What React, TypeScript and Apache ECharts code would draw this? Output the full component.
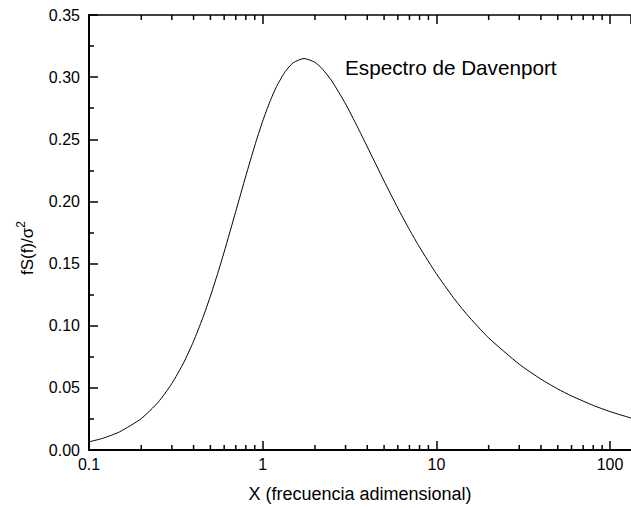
import React, { useEffect, useRef } from "react";
import * as echarts from "echarts";

// Frequency (dimensionless) and spectrum values
const xValues = [0.1, 0.12, 0.15, 0.2, 0.25, 0.3, 0.35, 0.4, 0.45, 0.5, 0.55, 0.6, 0.7, 0.8, 0.9, 1, 1.1, 1.2, 1.35, 1.5, 1.73, 2, 2.2, 2.5, 3, 3.5, 4, 5, 6, 7, 8, 10, 12.5, 15, 20, 30, 40, 50, 60, 80, 100, 132];
const yValues = [0.0066, 0.0094, 0.0146, 0.0253, 0.0384, 0.0535, 0.07, 0.0875, 0.1056, 0.1238, 0.1418, 0.1593, 0.192, 0.2206, 0.2448, 0.2646, 0.2802, 0.2923, 0.3046, 0.3116, 0.315, 0.3119, 0.3068, 0.2969, 0.2785, 0.2604, 0.244, 0.2164, 0.1946, 0.1773, 0.1632, 0.1418, 0.1228, 0.109, 0.0902, 0.069, 0.057, 0.0491, 0.0435, 0.0359, 0.0309, 0.0257];

// Minor tick positions on the log axis
const minorXTicks = [0.2, 0.3, 0.4, 0.5, 0.6, 0.7, 0.8, 0.9, 2, 3, 4, 5, 6, 7, 8, 9, 20, 30, 40, 50, 60, 70, 80, 90];

const xMin = 0.1;
const xMax = 132;
const yMin = 0;
const yMax = 0.35;
const yInterval = 0.05;

const chartTitle = "Espectro de Davenport";
const xName = "X (frecuencia adimensional)";
const yNameMain = "fS(f)/σ";
const yNameSup = "2";

const FONT = "'Liberation Sans', Arial, Helvetica, sans-serif";

export default function App() {
  const ref = useRef<HTMLDivElement>(null);
  useEffect(() => {
    if (!ref.current) return;
    const chart = echarts.init(ref.current, undefined, { renderer: "svg" });
    const lineData = xValues.map((x, i) => [x, yValues[i]]);
    const axisLineStyle = { color: "#000", width: 2 };
    chart.setOption({
      animation: false,
      backgroundColor: "#fff",
      textStyle: { fontFamily: FONT, color: "#000" },
      grid: { left: 89, right: 0, top: 15, bottom: 56, containLabel: false },
      xAxis: [
        {
          type: "log",
          logBase: 10,
          min: xMin,
          max: xMax,
          position: "bottom",
          axisLine: { show: true, lineStyle: axisLineStyle },
          axisTick: { show: true, inside: true, length: 9, lineStyle: { color: "#000", width: 1.5 } },
          axisLabel: {
            color: "#000",
            fontSize: 16,
            fontFamily: FONT,
            margin: 6,
            showMaxLabel: false,
            formatter: (v: number) => String(v),
          },
          splitLine: { show: false },
          name: xName,
          nameLocation: "middle",
          nameGap: 35,
          nameTextStyle: { color: "#000", fontSize: 18, fontFamily: FONT },
        },
        {
          type: "log",
          logBase: 10,
          min: xMin,
          max: xMax,
          position: "top",
          axisLine: { show: true, lineStyle: { color: "#000", width: 1.5 } },
          axisTick: { show: true, inside: true, length: 9, lineStyle: { color: "#000", width: 1.5 } },
          axisLabel: { show: false },
          splitLine: { show: false },
        },
      ],
      yAxis: {
        type: "value",
        min: yMin,
        max: yMax,
        interval: yInterval,
        axisLine: { show: true, lineStyle: axisLineStyle },
        axisTick: { show: true, inside: true, length: 9, lineStyle: { color: "#000", width: 1.5 } },
        minorTick: { show: true, splitNumber: 2, length: 5, lineStyle: { color: "#000", width: 1.5 } },
        axisLabel: {
          color: "#000",
          fontSize: 16,
          fontFamily: FONT,
          margin: 9,
          formatter: (v: number) => v.toFixed(2),
        },
        splitLine: { show: false },
        minorSplitLine: { show: false },
      },
      graphic: [
        {
          type: "text",
          left: 345,
          top: 57,
          style: { text: chartTitle, fill: "#000", fontSize: 20.7, fontFamily: FONT },
        },
        {
          type: "text",
          x: 36,
          y: 248,
          rotation: Math.PI / 2,
          style: {
            text: `{a|${yNameMain}}{b|${yNameSup}}`,
            align: "center",
            verticalAlign: "bottom",
            fill: "#000",
            fontFamily: FONT,
            rich: {
              a: { fontSize: 17, fontFamily: FONT, fill: "#000", verticalAlign: "bottom" },
              b: { fontSize: 12, fontFamily: FONT, fill: "#000", verticalAlign: "bottom", padding: [0, 0, 9, 0] },
            },
          },
        },
      ],
      series: [
        {
          type: "line",
          xAxisIndex: 0,
          data: lineData,
          smooth: 0.2,
          showSymbol: false,
          symbol: "none",
          lineStyle: { color: "#000", width: 1 },
          silent: true,
        },
        {
          type: "custom",
          xAxisIndex: 0,
          clip: false,
          silent: true,
          data: minorXTicks.map((x) => [x]),
          renderItem: (params: any, api: any) => {
            const x = api.value(0);
            const b = api.coord([x, yMin]);
            const t = api.coord([x, yMax]);
            const st = { stroke: "#000", lineWidth: 1.5 };
            return {
              type: "group",
              children: [
                { type: "line", shape: { x1: b[0], y1: b[1], x2: b[0], y2: b[1] - 5 }, style: st },
                { type: "line", shape: { x1: t[0], y1: t[1], x2: t[0], y2: t[1] + 5 }, style: st },
              ],
            };
          },
        },
      ],
    });
    return () => chart.dispose();
  }, []);
  return (
    <div
      ref={ref}
      style={{ position: "fixed", left: 0, top: 0, width: 631, height: 508 }}
    />
  );
}
